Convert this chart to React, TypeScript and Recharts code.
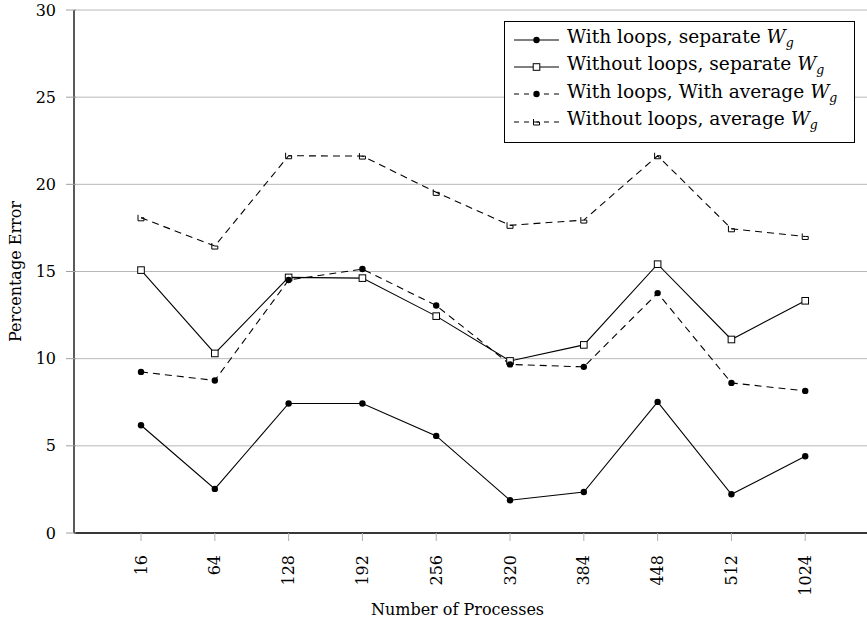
import React from "react";
import {
  LineChart,
  Line,
  XAxis,
  YAxis,
  CartesianGrid,
  Legend,
  Label,
} from "recharts";

const processes = ["16", "64", "128", "192", "256", "320", "384", "448", "512", "1024"];
const withLoopsSeparate = [6.18, 2.53, 7.43, 7.43, 5.57, 1.88, 2.35, 7.52, 2.22, 4.4];
const withoutLoopsSeparate = [15.08, 10.3, 14.66, 14.62, 12.44, 9.87, 10.79, 15.42, 11.1, 13.32];
const withLoopsAverage = [9.24, 8.75, 14.51, 15.14, 13.05, 9.67, 9.53, 13.76, 8.61, 8.15];
const withoutLoopsAverage = [18.08, 16.46, 21.64, 21.62, 19.54, 17.65, 17.95, 21.64, 17.45, 17.01];
const yTicks = [0, 5, 10, 15, 20, 25, 30];

const data = processes.map((p, i) => ({
  idx: i,
  label: p,
  a: withLoopsSeparate[i],
  b: withoutLoopsSeparate[i],
  c: withLoopsAverage[i],
  d: withoutLoopsAverage[i],
}));

const FONT = "'DejaVu Serif', 'Liberation Serif', serif";
const DASH = "7 5";

function Dot(props: any) {
  const { cx, cy } = props;
  if (cx == null || cy == null) return null;
  return <circle cx={cx} cy={cy} r={3.2} fill="#000" stroke="none" />;
}

function Square(props: any) {
  const { cx, cy } = props;
  if (cx == null || cy == null) return null;
  return <rect x={cx - 3.3} y={cy - 3.3} width={6.6} height={6.6} fill="#fff" stroke="#000" strokeWidth={1} />;
}

function HalfSquare(props: any) {
  const { cx, cy } = props;
  if (cx == null || cy == null) return null;
  return (
    <g fill="none" stroke="#000" strokeWidth={1}>
      <path d={`M${cx - 3},${cy - 3} L${cx - 3},${cy + 3} L${cx + 3},${cy + 3} L${cx + 3},${cy}`} />
      <path d={`M${cx},${cy} L${cx + 3},${cy}`} />
    </g>
  );
}

function XTick(props: any) {
  const { x, y, payload } = props;
  return (
    <g>
      <line x1={x} x2={x} y1={y} y2={y - 8} stroke="#b0b0b0" />
      <text
        x={x}
        y={y + 14}
        transform={`rotate(-90, ${x}, ${y + 14})`}
        textAnchor="end"
        dominantBaseline="central"
        fontFamily={FONT}
        fontSize={16}
        fill="#000"
      >
        {processes[payload.value]}
      </text>
    </g>
  );
}

function TopTick(props: any) {
  const { x, y } = props;
  return <line x1={x} x2={x} y1={y} y2={y + 7} stroke="#b0b0b0" />;
}

function YTick(props: any) {
  const { x, y, payload } = props;
  return (
    <g>
      <line x1={x} x2={x + 10} y1={y} y2={y} stroke="#a0a0a0" />
      <text
        x={x - 10}
        y={y}
        textAnchor="end"
        dominantBaseline="central"
        fontFamily={FONT}
        fontSize={16}
        fill="#000"
      >
        {payload.value}
      </text>
    </g>
  );
}

const legendItems = [
  { text: "With loops, separate ", dash: undefined, marker: "dot" },
  { text: "Without loops, separate ", dash: undefined, marker: "square" },
  { text: "With loops, With average ", dash: DASH, marker: "dot" },
  { text: "Without loops, average ", dash: DASH, marker: "half" },
];

function LegendBox() {
  return (
    <div
      style={{
        border: "1px solid #000",
        background: "#fff",
        padding: "4px 17px 7px 9px",
        fontFamily: FONT,
        fontSize: 18.6,
        lineHeight: "27.3px",
        color: "#000",
        whiteSpace: "nowrap",
      }}
    >
      {legendItems.map((it, i) => (
        <div key={i} style={{ display: "flex", alignItems: "center", height: 27.3 }}>
          <svg width={45} height={14} style={{ marginRight: 8, flexShrink: 0 }}>
            <line x1={0} x2={45} y1={7} y2={7} stroke="#000" strokeWidth={1} strokeDasharray={it.dash ? "5 5" : undefined} />
            {it.marker === "dot" && <Dot cx={22.5} cy={7} />}
            {it.marker === "square" && <Square cx={22.5} cy={7} />}
            {it.marker === "half" && <HalfSquare cx={22.5} cy={7} />}
          </svg>
          <span>
            {it.text}
            <i>W</i>
            <sub style={{ fontStyle: "italic", fontSize: 12.5, verticalAlign: -4 }}>g</sub>
          </span>
        </div>
      ))}
    </div>
  );
}

export default function App() {
  return (
    <div style={{ position: "absolute", left: 0, top: 0, width: 867, height: 623, background: "#fff" }}>
      <LineChart width={867} height={623} data={data} margin={{ top: 10, right: 0, left: 0, bottom: 0 }}>
        <CartesianGrid vertical={false} horizontal stroke="#b8b8b8" strokeWidth={1} />
        <XAxis
          dataKey="idx"
          type="number"
          domain={[-0.908, 9.837]}
          ticks={[0, 1, 2, 3, 4, 5, 6, 7, 8, 9]}
          allowDataOverflow
          height={90}
          axisLine={{ stroke: "#000", strokeWidth: 1.3 }}
          tickLine={false}
          tick={<XTick />}
          interval={0}
        >
          <Label
            value="Number of Processes"
            position="insideBottom"
            offset={8}
            dx={-13}
            style={{ fontFamily: FONT, fontSize: 16, fill: "#000" }}
          />
        </XAxis>
        <XAxis
          xAxisId="top"
          orientation="top"
          dataKey="idx"
          type="number"
          domain={[-0.908, 9.837]}
          ticks={[0, 1, 2, 3, 4, 5, 6, 7, 8, 9]}
          allowDataOverflow
          height={0}
          axisLine={{ stroke: "#000", strokeWidth: 1.3 }}
          tickLine={false}
          tick={<TopTick />}
          interval={0}
        />
        <YAxis
          type="number"
          domain={[0, 30]}
          ticks={yTicks}
          width={74}
          axisLine={{ stroke: "#000", strokeWidth: 1.3 }}
          tickLine={false}
          tick={<YTick />}
          interval={0}
        >
          <Label
            value="Percentage Error"
            angle={-90}
            position="insideLeft"
            offset={0}
            dx={15}
            style={{ fontFamily: FONT, fontSize: 16, fill: "#000", textAnchor: "middle" }}
          />
        </YAxis>
        <Legend
          layout="vertical"
          align="center"
          verticalAlign="middle"
          wrapperStyle={{ top: 21, left: 504, width: "auto" }}
          content={() => <LegendBox />}
        />
        <Line dataKey="a" stroke="#000" strokeWidth={1.1} dot={<Dot />} isAnimationActive={false} />
        <Line dataKey="b" stroke="#000" strokeWidth={1.1} dot={<Square />} isAnimationActive={false} />
        <Line dataKey="c" stroke="#000" strokeWidth={1.1} strokeDasharray={DASH} dot={<Dot />} isAnimationActive={false} />
        <Line dataKey="d" stroke="#000" strokeWidth={1.1} strokeDasharray={DASH} dot={<HalfSquare />} isAnimationActive={false} />
      </LineChart>
    </div>
  );
}
